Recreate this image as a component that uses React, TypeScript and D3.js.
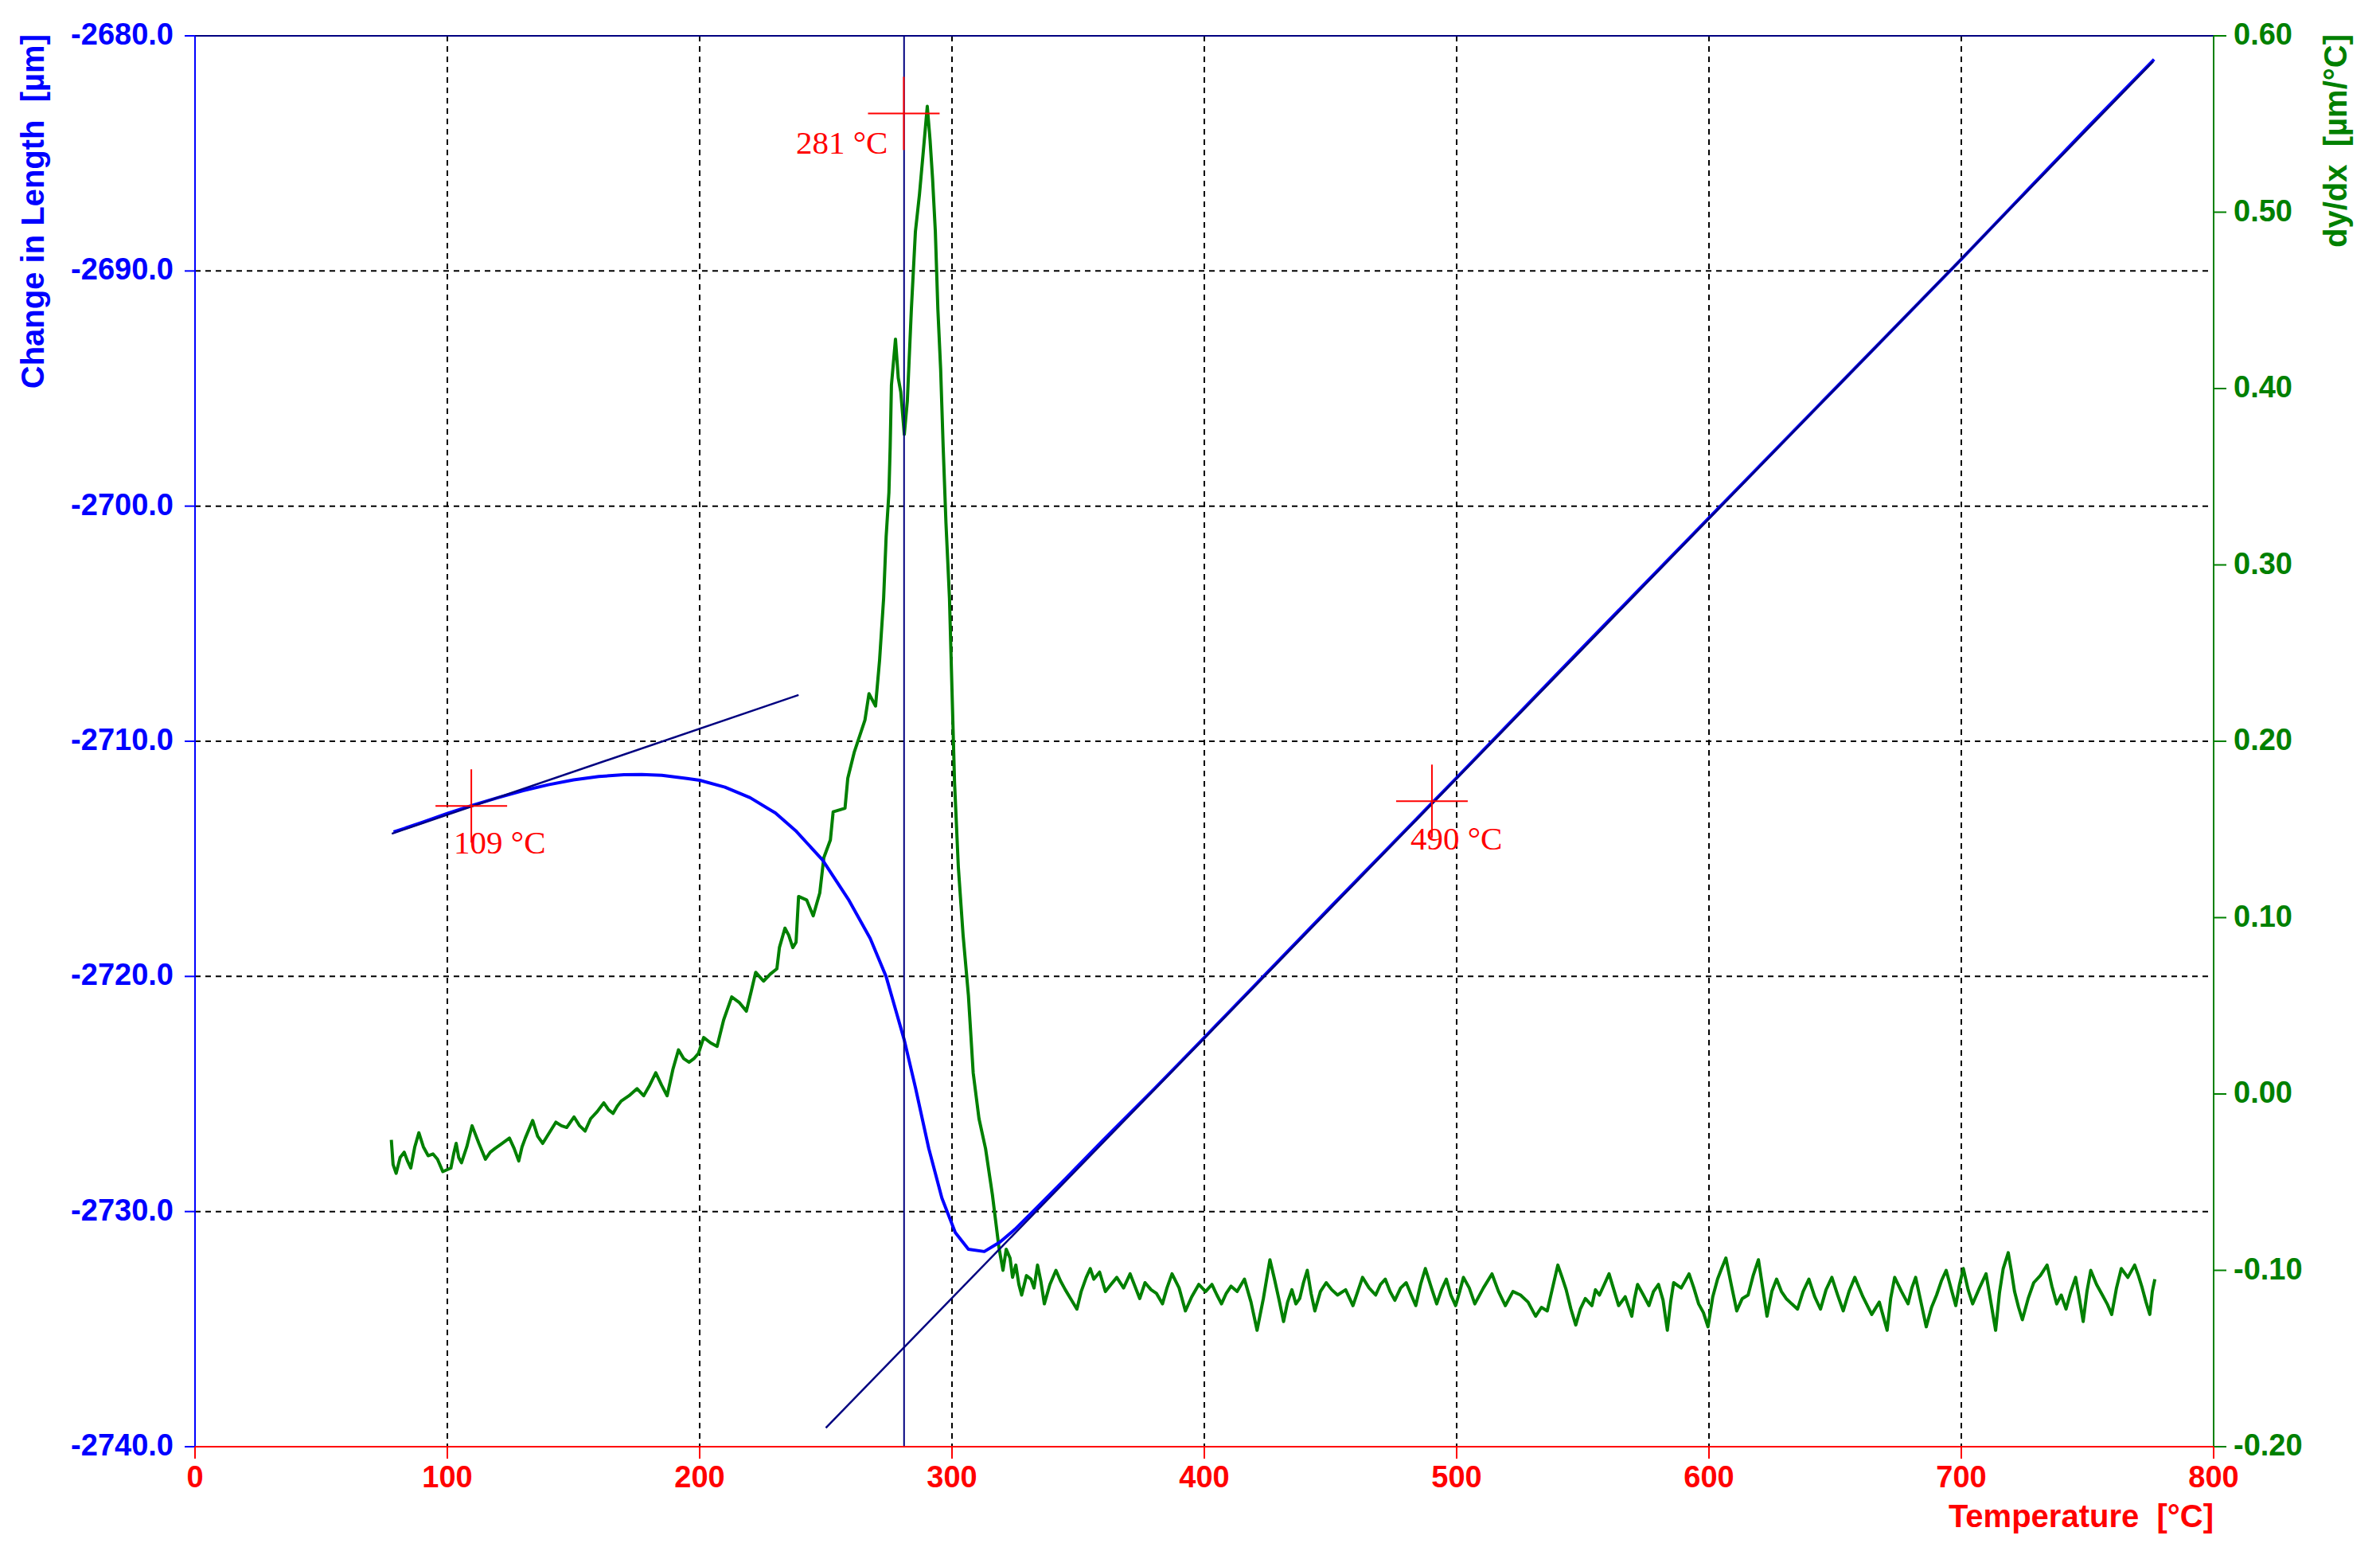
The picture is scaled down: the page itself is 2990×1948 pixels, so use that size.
import React from "react";
import * as d3 from "d3";

// ---- axis ticks ----
const tempTicks = [0, 100, 200, 300, 400, 500, 600, 700, 800];
const lengthTicks = [-2680, -2690, -2700, -2710, -2720, -2730, -2740];
const derivTicks = [0.6, 0.5, 0.4, 0.3, 0.2, 0.1, 0.0, -0.1, -0.2];
const gridTemps = [100, 200, 300, 400, 500, 600, 700];
const gridLengths = [-2690, -2700, -2710, -2720, -2730];

// ---- change in length (µm) vs temperature (°C) ----
const lengthTemp = [
  78.7, 90, 100, 110, 120, 130, 140, 150, 160, 170, 177, 185, 195, 200, 210, 220, 230, 238,
  248.7, 259.2, 267.6, 273.9, 281.1, 285.5, 290.8, 296, 301.3, 306.5, 312.8, 319, 325, 333,
  345, 360, 380, 400, 450, 500, 550, 600, 650, 700, 750, 776.4,
];
const lengthVal = [
  -2713.86, -2713.45, -2713.07, -2712.72, -2712.4, -2712.1, -2711.85, -2711.64, -2711.5,
  -2711.42, -2711.41, -2711.45, -2711.58, -2711.66, -2711.95, -2712.4, -2713.05, -2713.8,
  -2715.05, -2716.77, -2718.39, -2720.01, -2722.71, -2724.72, -2727.32, -2729.43, -2730.89,
  -2731.6, -2731.7, -2731.3, -2730.75, -2729.9, -2728.6, -2726.95, -2724.8, -2722.6,
  -2717.05, -2711.55, -2706.0, -2700.5, -2695.0, -2689.5, -2683.9, -2681.0,
];

// ---- tangent lines ----
const tangentLowT = [78, 239.2];
const tangentLowV = [-2713.93, -2708.03];
const tangentHighT = [250, 776];
const tangentHighV = [-2739.2, -2681.1];

// ---- derivative dy/dx (µm/°C): [temperature, value] readings ----
const derivLow = [
  [77.8, -0.026], [78.5, -0.04], [79.7, -0.045], [81.3, -0.036], [82.9, -0.033], [84.2, -0.038],
  [85.5, -0.042], [87.1, -0.03], [88.7, -0.022], [90.5, -0.03], [92.4, -0.035], [94.3, -0.034],
  [96.1, -0.037], [98.2, -0.044], [99.8, -0.043], [101.4, -0.042], [102.5, -0.034], [103.5, -0.028],
  [104.5, -0.036], [105.6, -0.039], [107.7, -0.03], [109.8, -0.018], [112.5, -0.028], [115.1, -0.037],
  [117, -0.033], [118.8, -0.031], [121.7, -0.028], [124.6, -0.025], [126.5, -0.031], [128.3, -0.038],
  [129.6, -0.03], [130.9, -0.025], [133.8, -0.015], [135.8, -0.024], [137.8, -0.028], [140.4, -0.022],
  [143, -0.016], [145.2, -0.018], [147.3, -0.019], [150.2, -0.013], [152.4, -0.018], [154.6, -0.021],
  [156.8, -0.014], [159.4, -0.01], [162, -0.005], [163.9, -0.009], [165.7, -0.011], [167.3, -0.007],
  [168.9, -0.004], [172, -0.001], [175.2, 0.003], [177.8, -0.001], [180.2, 0.005], [182.6, 0.012],
  [184.9, 0.005], [187.1, -0.001], [189.4, 0.014], [191.6, 0.025], [193.7, 0.02], [195.8, 0.018],
  [197.7, 0.02], [199.5, 0.023], [201.6, 0.032], [204.3, 0.029], [206.9, 0.027], [209.5, 0.042],
  [212.7, 0.055], [215.6, 0.052], [218.5, 0.047], [220.4, 0.058], [222.2, 0.069], [225.3, 0.064],
  [228, 0.068], [230.6, 0.071], [231.6, 0.083], [233.8, 0.094], [235.3, 0.09], [236.9, 0.083],
];
const derivPeak = [
  [238.2, 0.086], [239.2, 0.112], [242.4, 0.11], [245.0, 0.101], [247.6, 0.114], [249.2, 0.134],
  [251.8, 0.144], [252.9, 0.16], [257.6, 0.162], [258.7, 0.179], [261.3, 0.194], [265.5, 0.212],
  [267.1, 0.227], [269.7, 0.22], [271.3, 0.246], [272.9, 0.281], [273.9, 0.316], [275.0, 0.341],
  [275.5, 0.367], [276.0, 0.402], [277.6, 0.428], [278.7, 0.406], [279.7, 0.398], [281.1, 0.374],
  [282.3, 0.393], [283.9, 0.445], [285.5, 0.489], [287.1, 0.51], [288.6, 0.534], [290.2, 0.56],
  [291.3, 0.541], [292.3, 0.519], [293.4, 0.489], [294.4, 0.445], [295.5, 0.411], [296.5, 0.367],
  [297.6, 0.324], [299.0, 0.281], [300.0, 0.229], [301.0, 0.177], [302.5, 0.129], [304.4, 0.09],
  [306.5, 0.056], [308.4, 0.012], [310.7, -0.014], [313.3, -0.031], [316.0, -0.057], [318.6, -0.087],
];
const derivFlat = [
  [320.2, -0.1], [321.5, -0.088], [323, -0.093], [324, -0.104], [325.3, -0.097], [326.5, -0.108],
  [327.6, -0.114], [329.5, -0.103], [331.3, -0.105], [332.5, -0.11], [333.9, -0.097], [335.2, -0.106],
  [336.6, -0.119], [338.8, -0.108], [341.2, -0.1], [343, -0.106], [344.9, -0.111], [347, -0.116],
  [349.5, -0.122], [351.2, -0.112], [353.2, -0.104], [354.8, -0.099], [356.2, -0.105], [358.5, -0.101],
  [360.8, -0.112], [363, -0.108], [365.3, -0.104], [368, -0.11], [370.6, -0.102], [372.5, -0.109],
  [374.4, -0.116], [376.5, -0.107], [378.9, -0.111], [381, -0.113], [383.4, -0.119], [385.2, -0.11],
  [387.2, -0.102], [390, -0.11], [392.5, -0.123], [395, -0.115], [397.8, -0.108], [400.5, -0.112],
  [403, -0.108], [405, -0.114], [406.8, -0.119], [408.7, -0.113], [410.6, -0.109], [413, -0.112],
  [415.9, -0.105], [418.5, -0.118], [420.9, -0.134], [422, -0.126], [423.4, -0.116], [424.8, -0.104],
  [426, -0.094], [427.8, -0.105], [429.5, -0.116], [431.4, -0.129], [433, -0.118], [434.7, -0.111],
  [436.3, -0.119], [437.8, -0.116], [439.3, -0.107], [440.8, -0.1], [442.3, -0.113], [443.8, -0.123],
  [446, -0.112], [448.3, -0.107], [450.5, -0.111], [452.8, -0.114], [456, -0.111], [458.9, -0.12],
  [460.8, -0.112], [462.7, -0.104], [465.3, -0.11], [467.9, -0.114], [469.8, -0.108], [471.7, -0.105],
  [473.6, -0.112], [475.5, -0.117], [477.8, -0.11], [480, -0.107], [482, -0.114], [483.8, -0.12],
  [485.7, -0.108], [487.6, -0.099], [490, -0.11], [492.1, -0.119], [494, -0.111], [495.9, -0.105],
  [497.7, -0.114], [499.6, -0.12], [501.2, -0.112], [502.7, -0.104], [505, -0.11], [507.2, -0.119],
  [510.6, -0.11], [514, -0.102], [516.6, -0.112], [519.3, -0.12], [522.3, -0.112], [525.3, -0.114],
  [528.3, -0.118], [531.3, -0.126], [533.6, -0.121], [535.9, -0.123], [538, -0.11], [540.1, -0.097],
  [541.8, -0.104], [543.4, -0.111], [545.3, -0.122], [547.2, -0.131], [549, -0.122], [551, -0.116],
  [553.6, -0.12], [555, -0.111], [556.6, -0.114], [558.5, -0.108], [560.4, -0.102], [562.3, -0.111],
  [564.2, -0.12], [566.8, -0.115], [569.4, -0.126], [570.5, -0.116], [571.7, -0.108], [574, -0.114],
  [576.2, -0.12], [578, -0.112], [580, -0.108], [581.8, -0.117], [583.5, -0.134], [584.8, -0.118],
  [586, -0.107], [589, -0.11], [592.1, -0.102], [594, -0.11], [595.9, -0.119], [597.8, -0.124],
  [599.6, -0.132], [601.5, -0.115], [603.4, -0.105], [605, -0.099], [606.7, -0.093], [608.8, -0.108],
  [611, -0.123], [613.2, -0.116], [615.5, -0.114], [617.5, -0.103], [619.6, -0.094], [621.3, -0.11],
  [623, -0.126], [624.9, -0.112], [626.8, -0.105], [628.7, -0.112], [630.6, -0.116], [632.8, -0.119],
  [635.1, -0.122], [637.3, -0.112], [639.6, -0.105], [641.9, -0.115], [644.2, -0.122], [646.4, -0.111],
  [648.7, -0.104], [651, -0.114], [653.2, -0.123], [655.5, -0.112], [657.8, -0.104], [661, -0.115],
  [664.5, -0.125], [667.5, -0.118], [670.6, -0.134], [672, -0.116], [673.6, -0.104], [676.3, -0.112],
  [678.9, -0.119], [680.4, -0.11], [681.9, -0.104], [684, -0.118], [686.1, -0.132], [688.2, -0.121],
  [690.2, -0.114], [692.1, -0.106], [694, -0.1], [695.9, -0.11], [697.8, -0.12], [699.3, -0.108],
  [700.8, -0.099], [702.7, -0.111], [704.5, -0.119], [707.2, -0.11], [709.8, -0.102], [711.7, -0.118],
  [713.6, -0.134], [715.1, -0.113], [716.6, -0.099], [718.6, -0.09], [719.8, -0.1], [721.1, -0.112],
  [722.7, -0.121], [724.2, -0.128], [726.5, -0.116], [728.7, -0.107], [731.3, -0.103], [734, -0.097],
  [735.9, -0.109], [737.8, -0.119], [739.6, -0.114], [741.5, -0.122], [743.4, -0.112], [745.3, -0.104],
  [746.8, -0.116], [748.3, -0.129], [749.8, -0.112], [751.3, -0.1], [753.6, -0.108], [755.9, -0.114],
  [757.8, -0.119], [759.6, -0.125], [761.5, -0.11], [763.4, -0.099], [766, -0.104], [768.7, -0.097],
  [770.2, -0.103], [771.7, -0.11], [773.2, -0.118], [774.7, -0.125], [775.7, -0.112], [776.7, -0.105],
];

// ---- marker annotations ----
const markerTemps = [109.5, 280.9, 490.2];
const markerVals = [-2712.75, 0.556, -2712.55];
const markerAxis = ["left", "right", "left"];
const markerLabels = ["109 °C", "281 °C", "490 °C"];
const peakLineTemp = 281;

const BLUE = "#0000ff";
const NAVY = "#000080";
const GREEN = "#008000";
const RED = "#ff0000";
const SANS = "'Liberation Sans', Arial, sans-serif";
const SERIF = "'Liberation Serif', 'Times New Roman', serif";

export default function App() {
  const W = 2990;
  const H = 1948;
  const left = 245, right = 2781, top = 45, bottom = 1817;

  const x = d3.scaleLinear().domain([0, 800]).range([left, right]);
  const yL = d3.scaleLinear().domain([-2740, -2680]).range([bottom, top]);
  const yR = d3.scaleLinear().domain([-0.2, 0.6]).range([bottom, top]);

  const lineL = d3
    .line<[number, number]>()
    .x((d) => x(d[0]))
    .y((d) => yL(d[1]));
  const lineR = d3
    .line<number[]>()
    .x((d) => x(d[0]))
    .y((d) => yR(d[1]));

  const lengthPts = lengthTemp.map((t, i) => [t, lengthVal[i]] as [number, number]);
  const derivPts = [...derivLow, ...derivPeak, ...derivFlat];
  const tanLow = tangentLowT.map((t, i) => [t, tangentLowV[i]] as [number, number]);
  const tanHigh = tangentHighT.map((t, i) => [t, tangentHighV[i]] as [number, number]);

  const labelOffsets = [
    { dx: -22, dy: 60, anchor: "start" },
    { dx: -20, dy: 51, anchor: "end" },
    { dx: -27, dy: 61, anchor: "start" },
  ];

  return (
    <svg
      width={W}
      height={H}
      style={{ position: "absolute", left: 0, top: 0, background: "#fff" }}
    >
      <rect x={0} y={0} width={W} height={H} fill="#fff" />

      {/* grid */}
      {gridTemps.map((t) => (
        <line
          key={"gx" + t}
          x1={x(t)}
          x2={x(t)}
          y1={top}
          y2={bottom}
          stroke="#000"
          strokeWidth={2}
          strokeDasharray="7,6"
        />
      ))}
      {gridLengths.map((v) => (
        <line
          key={"gy" + v}
          x1={left}
          x2={right}
          y1={yL(v)}
          y2={yL(v)}
          stroke="#000"
          strokeWidth={2}
          strokeDasharray="7,6"
        />
      ))}

      {/* derivative curve */}
      <path d={lineR(derivPts) || ""} fill="none" stroke={GREEN} strokeWidth={4} strokeLinejoin="round" />

      {/* length curve */}
      <path d={lineL(lengthPts) || ""} fill="none" stroke={BLUE} strokeWidth={4} strokeLinejoin="round" />

      {/* tangents */}
      <path d={lineL(tanLow) || ""} fill="none" stroke={NAVY} strokeWidth={2.5} />
      <path d={lineL(tanHigh) || ""} fill="none" stroke={NAVY} strokeWidth={2.5} />

      {/* vertical marker line */}
      <line x1={x(peakLineTemp)} x2={x(peakLineTemp)} y1={top} y2={bottom} stroke={NAVY} strokeWidth={2} />

      {/* axes frame */}
      <line x1={left} x2={right} y1={top} y2={top} stroke={NAVY} strokeWidth={2} />
      <line x1={left} x2={left} y1={top} y2={bottom} stroke={BLUE} strokeWidth={2} />
      <line x1={right} x2={right} y1={top} y2={bottom} stroke={GREEN} strokeWidth={2} />
      <line x1={left} x2={right} y1={bottom} y2={bottom} stroke={RED} strokeWidth={2} />

      {/* left axis */}
      {lengthTicks.map((v) => (
        <g key={"lt" + v}>
          <line x1={left - 13} x2={left} y1={yL(v)} y2={yL(v)} stroke={BLUE} strokeWidth={2} />
          <text
            x={218}
            y={yL(v) + 11}
            textAnchor="end"
            fill={BLUE}
            fontFamily={SANS}
            fontWeight="bold"
            fontSize={38}
          >
            {v.toFixed(1)}
          </text>
        </g>
      ))}
      <text
        transform={`translate(55,${top - 2}) rotate(-90)`}
        textAnchor="end"
        fill={BLUE}
        fontFamily={SANS}
        fontWeight="bold"
        fontSize={40}
        style={{ whiteSpace: "pre" }}
      >
        {"Change in Length  [µm]"}
      </text>

      {/* right axis */}
      {derivTicks.map((v) => (
        <g key={"rt" + v}>
          <line x1={right} x2={right + 16} y1={yR(v)} y2={yR(v)} stroke={GREEN} strokeWidth={2} />
          <text
            x={2806}
            y={yR(v) + 11}
            textAnchor="start"
            fill={GREEN}
            fontFamily={SANS}
            fontWeight="bold"
            fontSize={38}
          >
            {v.toFixed(2)}
          </text>
        </g>
      ))}
      <text
        transform={`translate(2948,${top - 2}) rotate(-90)`}
        textAnchor="end"
        fill={GREEN}
        fontFamily={SANS}
        fontWeight="bold"
        fontSize={40}
        style={{ whiteSpace: "pre" }}
      >
        {"dy/dx  [µm/°C]"}
      </text>

      {/* bottom axis */}
      {tempTicks.map((t) => (
        <g key={"bt" + t}>
          <line x1={x(t)} x2={x(t)} y1={bottom} y2={bottom + 15} stroke={RED} strokeWidth={2} />
          <text
            x={x(t)}
            y={1868}
            textAnchor="middle"
            fill={RED}
            fontFamily={SANS}
            fontWeight="bold"
            fontSize={38}
          >
            {t}
          </text>
        </g>
      ))}
      <text
        x={right}
        y={1918}
        textAnchor="end"
        fill={RED}
        fontFamily={SANS}
        fontWeight="bold"
        fontSize={40}
        style={{ whiteSpace: "pre" }}
      >
        {"Temperature  [°C]"}
      </text>

      {/* markers */}
      {markerTemps.map((t, i) => {
        const cx = x(t);
        const cy = markerAxis[i] === "left" ? yL(markerVals[i]) : yR(markerVals[i]);
        const o = labelOffsets[i];
        return (
          <g key={"m" + i}>
            <line x1={cx - 45} x2={cx + 45} y1={cy} y2={cy} stroke={RED} strokeWidth={2} />
            <line x1={cx} x2={cx} y1={cy - 46} y2={cy + 46} stroke={RED} strokeWidth={2} />
            <text
              x={cx + o.dx}
              y={cy + o.dy}
              textAnchor={o.anchor as any}
              fill={RED}
              fontFamily={SERIF}
              fontSize={41}
            >
              {markerLabels[i]}
            </text>
          </g>
        );
      })}
    </svg>
  );
}
